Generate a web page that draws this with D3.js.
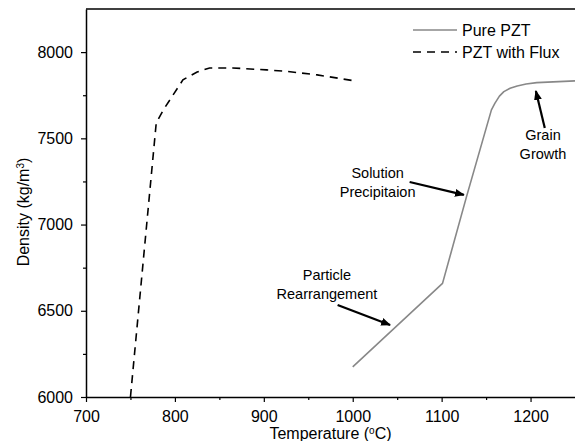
<!DOCTYPE html>
<html>
<head>
<meta charset="utf-8">
<script src="https://cdn.jsdelivr.net/npm/d3@7"></script>
<style>
  body { margin: 0; background: #fff; }
  svg text { font-family: "Liberation Sans", Arial, sans-serif; fill: #000; }
</style>
</head>
<body>
<svg id="chart" width="575" height="441"></svg>
<script>
// Density vs sintering temperature
const pureTemp    = [1000, 1101, 1128, 1156, 1160, 1165, 1170, 1177, 1185, 1195, 1207, 1250];
const pureDensity = [6175, 6659, 7162, 7665, 7704, 7745, 7771, 7790, 7804, 7815, 7823, 7833];

const fluxTemp    = [750, 779, 787, 798, 809, 825, 839, 865, 903, 926, 960, 1000];
const fluxDensity = [6000, 7590, 7665, 7752, 7839, 7885, 7908, 7908, 7897, 7888, 7868, 7835];

const xTicks = [700, 800, 900, 1000, 1100, 1200];
const xMinor = [750, 850, 950, 1050, 1150];
const yTicks = [6000, 6500, 7000, 7500, 8000];
const yMinor = [6250, 6750, 7250, 7750];

// annotations: label lines, text anchor (data units), arrow from/to (data units)
const notes = [
    { lines: ['Particle', 'Rearrangement'], tx: 971, ty: 6679, from: [983, 6534], to: [1042, 6418] },
    { lines: ['Solution', 'Precipitaion'], tx: 1028, ty: 7270, from: [1064, 7247], to: [1125, 7172] },
    { lines: ['Grain', 'Growth'], tx: 1214, ty: 7490, from: [1216, 7560], to: [1206, 7775] }
];

const svg = d3.select('#chart');
const margin = { left: 86, right: 0, top: 9, bottom: 44 };
const width = 575, height = 441;

const x = d3.scaleLinear().domain([700, 1250]).range([margin.left, width - margin.right]);
const y = d3.scaleLinear().domain([6000, 8250]).range([height - margin.bottom, margin.top]);

// frame top line
svg.append('line')
    .attr('x1', x(700)).attr('x2', x(1250))
    .attr('y1', y(8250)).attr('y2', y(8250))
    .attr('stroke', '#000').attr('stroke-width', 1.5);

// x axis
const xAxis = svg.append('g')
    .attr('transform', `translate(0,${y(6000)})`)
    .call(d3.axisBottom(x).tickValues(xTicks).tickSize(5).tickPadding(9).tickSizeOuter(0).tickFormat(d3.format('d')));
svg.append('g')
    .attr('transform', `translate(0,${y(6000)})`)
    .call(d3.axisBottom(x).tickValues(xMinor).tickSize(3).tickFormat(''))
    .select('.domain').remove();

// y axis
const yAxis = svg.append('g')
    .attr('transform', `translate(${x(700)},0)`)
    .call(d3.axisLeft(y).tickValues(yTicks).tickSize(5).tickPadding(8).tickSizeOuter(0).tickFormat(d3.format('d')));
svg.append('g')
    .attr('transform', `translate(${x(700)},0)`)
    .call(d3.axisLeft(y).tickValues(yMinor).tickSize(3).tickFormat(''))
    .select('.domain').remove();

svg.selectAll('.domain').attr('stroke-width', 1.5);
svg.selectAll('.tick line').attr('stroke-width', 1.2);
svg.selectAll('.tick text').attr('font-size', 16).attr('font-family', '"Liberation Sans", Arial, sans-serif');

// axis titles
svg.append('text')
    .attr('x', (x(700) + x(1250)) / 2).attr('y', 439)
    .attr('text-anchor', 'middle').attr('font-size', 16)
    .html('Temperature (<tspan baseline-shift="super" font-size="10">o</tspan>C)');

svg.append('text')
    .attr('transform', 'translate(29,212) rotate(-90)')
    .attr('text-anchor', 'middle').attr('font-size', 16)
    .html('Density (kg/m<tspan baseline-shift="super" font-size="10">3</tspan>)');

// lines
const line = d3.line().x(d => x(d[0])).y(d => y(d[1]));

svg.append('path')
    .datum(fluxTemp.map((t, i) => [t, fluxDensity[i]]))
    .attr('d', line)
    .attr('fill', 'none').attr('stroke', '#000').attr('stroke-width', 1.6)
    .attr('stroke-dasharray', '8,6');

svg.append('path')
    .datum(pureTemp.map((t, i) => [t, pureDensity[i]]))
    .attr('d', line)
    .attr('fill', 'none').attr('stroke', '#888').attr('stroke-width', 1.6)
    .attr('stroke-linejoin', 'round');

// legend
const legend = svg.append('g').attr('transform', 'translate(413,30)');
legend.append('line').attr('x1', 0).attr('x2', 44).attr('y1', 0).attr('y2', 0)
    .attr('stroke', '#888').attr('stroke-width', 1.6);
legend.append('text').attr('x', 49).attr('y', 5.5).attr('font-size', 16).text('Pure PZT');
legend.append('line').attr('x1', 0).attr('x2', 44).attr('y1', 22).attr('y2', 22)
    .attr('stroke', '#000').attr('stroke-width', 1.6).attr('stroke-dasharray', '8,6');
legend.append('text').attr('x', 49).attr('y', 27.5).attr('font-size', 16).text('PZT with Flux');

// arrowhead marker
svg.append('defs').append('marker')
    .attr('id', 'arrow')
    .attr('viewBox', '0 0 10 10')
    .attr('refX', 9).attr('refY', 5)
    .attr('markerWidth', 4.5).attr('markerHeight', 4.5)
    .attr('markerUnits', 'strokeWidth')
    .attr('orient', 'auto')
    .append('path').attr('d', 'M0,1 L10,5 L0,9 Z').attr('fill', '#000');

notes.forEach(n => {
    const t = svg.append('text')
        .attr('x', x(n.tx)).attr('y', y(n.ty))
        .attr('text-anchor', 'middle').attr('font-size', 14.5);
    n.lines.forEach((l, i) => {
        t.append('tspan').attr('x', x(n.tx)).attr('dy', i === 0 ? 0 : '1.3em').text(l);
    });
    svg.append('line')
        .attr('x1', x(n.from[0])).attr('y1', y(n.from[1]))
        .attr('x2', x(n.to[0])).attr('y2', y(n.to[1]))
        .attr('stroke', '#000').attr('stroke-width', 2.2)
        .attr('marker-end', 'url(#arrow)');
});
</script>
</body>
</html>
